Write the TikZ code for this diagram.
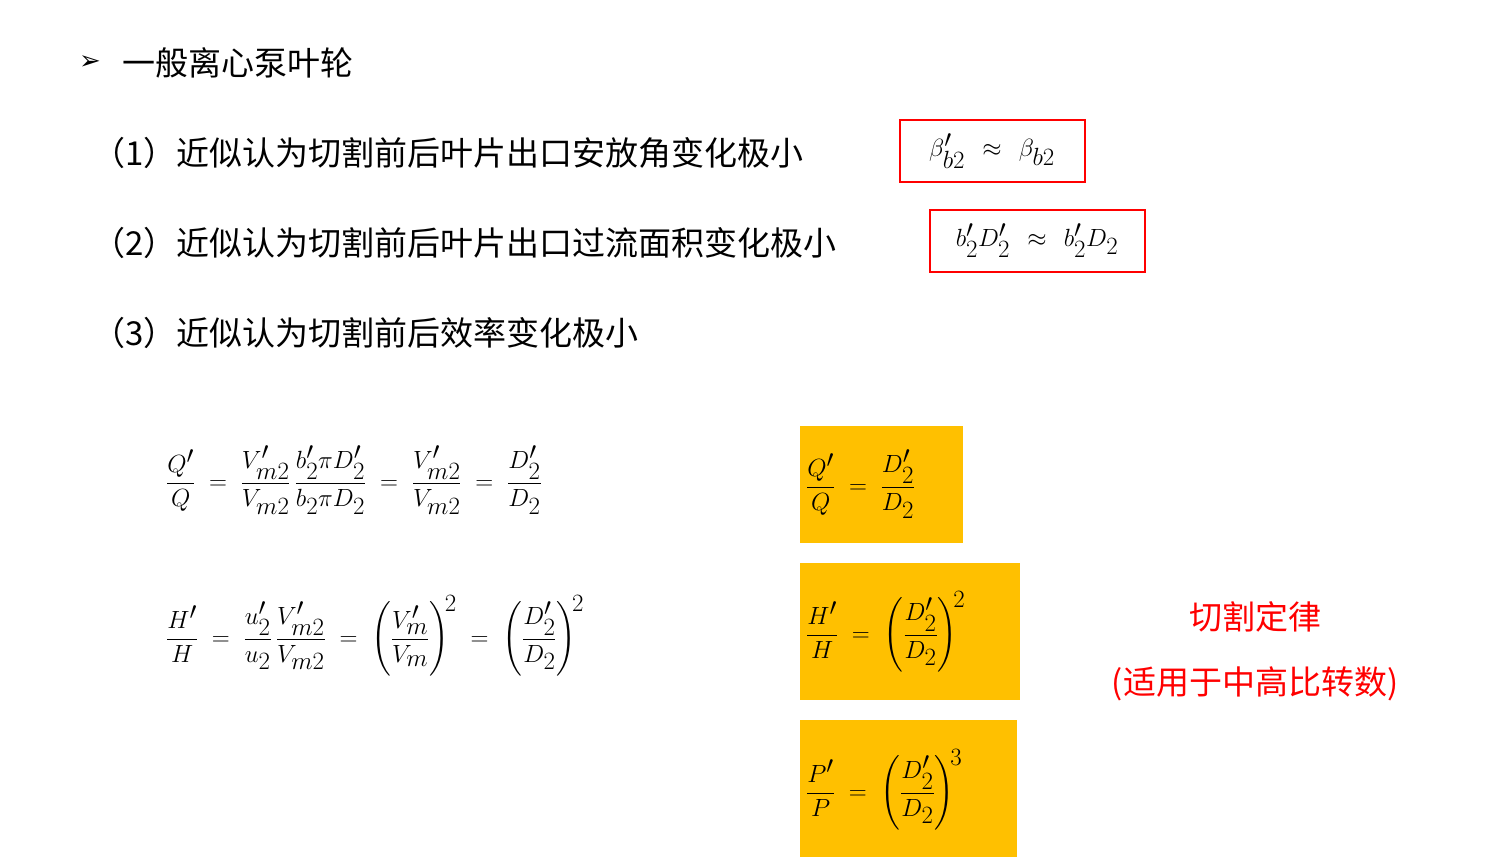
\documentclass[tikz,border=0pt]{standalone}
\usepackage{amsmath}
\usepackage{fontspec}
\newfontfamily\cjk{Noto Sans CJK SC}
\newfontfamily\djsans{DejaVu Sans}
\definecolor{gold}{HTML}{FFC000}
\begin{document}
\begin{tikzpicture}[x=1pt,y=-1pt,
  cn/.style={font=\cjk\fontsize{33}{40}\selectfont,anchor=west,inner sep=0},
  mth/.style={font=\fontsize{34}{40}\selectfont,inner sep=0},
  rbox/.style={draw=red,line width=1.5pt},
  ybox/.style={fill=gold}]
\useasboundingbox (0,0) rectangle (1499,858);
\node[font=\djsans\fontsize{26}{30}\selectfont,inner sep=0] (ar) at (90,63) {➢};
\node[cn] (t0) at (122,63) {一般离心泵叶轮};
\node[cn] (t1) at (92,153) {（1）近似认为切割前后叶片出口安放角变化极小};
\node[cn] (t2) at (92,243) {（2）近似认为切割前后叶片出口过流面积变化极小};
\node[cn] (t3) at (92,333) {（3）近似认为切割前后效率变化极小};
\draw[rbox] (900,120) rectangle (1085,182);
\node[mth] (f1) at (992,151) {$\beta'_{b2}\ \approx\ \beta_{b2}$};
\draw[rbox] (930,210) rectangle (1145,272);
\node[mth] (f2) at (1037,241) {$b'_2D'_2\ \approx\ b'_2D_2$};
\node[mth,anchor=west] (r1) at (166,480) {$\displaystyle \frac{Q'}{Q}\;=\;\frac{V'_{m2}}{V_{m2}}\,\frac{b'_2\pi D'_2}{b_2\pi D_2}\;=\;\frac{V'_{m2}}{V_{m2}}\;=\;\frac{D'_2}{D_2}$};
\node[mth,anchor=west] (r2) at (166,636) {$\displaystyle \frac{H'}{H}\;=\;\frac{u'_2}{u_2}\,\frac{V'_{m2}}{V_{m2}}\;=\;\left(\frac{V'_m}{V_m}\right)^{\!2}\;=\;\left(\frac{D'_2}{D_2}\right)^{\!2}$};
\fill[ybox] (800,426) rectangle (963,543);
\fill[ybox] (800,563) rectangle (1020,700);
\fill[ybox] (800,720) rectangle (1017,857);
\node[mth,anchor=west] (b1) at (806,484) {$\displaystyle \frac{Q'}{Q}\;=\;\frac{D'_2}{D_2}$};
\node[mth,anchor=west] (b2) at (806,632) {$\displaystyle \frac{H'}{H}\;=\;\left(\frac{D'_2}{D_2}\right)^{\!2}$};
\node[mth,anchor=west] (b3) at (806,790) {$\displaystyle \frac{P'}{P}\;=\;\left(\frac{D'_2}{D_2}\right)^{\!3}$};
\node[font=\cjk\fontsize{33}{40}\selectfont,text=red,inner sep=0] (law) at (1255,617) {切割定律};
\node[font=\cjk\fontsize{33}{40}\selectfont,text=red,inner sep=0] (app) at (1255,684) {(适用于中高比转数)};
\end{tikzpicture}
\end{document}
